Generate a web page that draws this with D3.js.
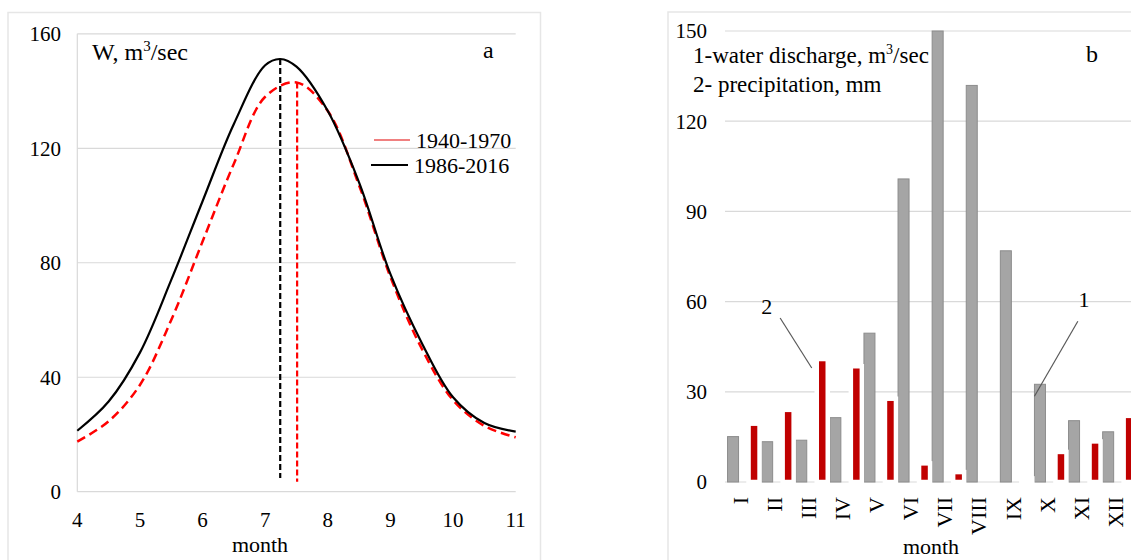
<!DOCTYPE html>
<html>
<head>
<meta charset="utf-8">
<script src="https://cdn.jsdelivr.net/npm/d3@7/dist/d3.min.js"></script>
<style>
  html, body { margin: 0; padding: 0; background: #fff; }
  svg { display: block; }
  text { font-family: "Liberation Serif", "Times New Roman", serif; fill: #000; }
</style>
</head>
<body>
<svg id="chart" width="1131" height="560"></svg>
<script>
// ---------- DATA ----------
// Panel a: mean hydrograph (month vs W, m3/sec)
const monthsA = [4, 4.5, 5, 5.5, 6, 6.5, 7, 7.24, 7.5, 8, 8.5, 9, 9.5, 10, 10.5, 11];
const series1986 = [21.3, 31.5, 48.6, 74, 101.5, 128.5, 149, 151.2, 148.5, 133, 108, 76, 52, 33, 24, 21];
const monthsA2 = [4, 4.5, 5, 5.5, 6, 6.5, 7, 7.5, 8, 8.5, 9, 9.5, 10, 10.5, 11];
const series1940 = [17.5, 24.6, 37.3, 60, 87.4, 114.6, 138, 143, 133, 107, 75, 50, 32, 23, 19];
const peakMonths = [7.24, 7.51];      // 1986-2016, 1940-1970 peak positions
const peakTops = [151.2, 143];
const peakBottoms = [4.8, 3.5];
const xTicksA = [4, 5, 6, 7, 8, 9, 10, 11];
const yTicksA = [0, 40, 80, 120, 160];
const legendA = ["1940-1970", "1986-2016"];

// Panel b: monthly water discharge and precipitation
const romanMonths = ["I", "II", "III", "IV", "V", "VI", "VII", "VIII", "IX", "X", "XI", "XII"];
const discharge = [15.1, 13.4, 13.9, 21.4, 49.5, 100.8, 150, 131.9, 76.9, 32.5, 20.4, 16.7];
const precipitation = [19.4, 24, 40.9, 38.5, 27.7, 6.2, 3.3, 0, 1.2, 10, 13.5, 22];
const yTicksB = [0, 30, 60, 90, 120, 150];

// ---------- DRAW ----------
const svg = d3.select("#chart");
svg.append("rect").attr("width", 1131).attr("height", 560).attr("fill", "#fff");

const frameColor = "#e6e6e6";
const gridColor = "#d9d9d9";

// Panel frames
svg.append("rect").attr("x", 8).attr("y", 12.5).attr("width", 532.5).attr("height", 560)
  .attr("fill", "none").attr("stroke", frameColor).attr("stroke-width", 1.5);
svg.append("rect").attr("x", 668).attr("y", 12).attr("width", 480).attr("height", 560)
  .attr("fill", "none").attr("stroke", frameColor).attr("stroke-width", 1.5);

// ===== Panel a =====
const xA = d3.scaleLinear().domain([4, 11]).range([77.3, 515.7]);
const yA = d3.scaleLinear().domain([0, 160]).range([491.7, 33.8]);
const gA = svg.append("g");

// grid
gA.selectAll("line.grid").data(yTicksA).join("line")
  .attr("x1", xA(4)).attr("x2", xA(11))
  .attr("y1", d => yA(d)).attr("y2", d => yA(d))
  .attr("stroke", gridColor).attr("stroke-width", 1.2);
// y axis line
gA.append("line").attr("x1", xA(4)).attr("x2", xA(4)).attr("y1", yA(0)).attr("y2", yA(160))
  .attr("stroke", gridColor).attr("stroke-width", 1.2);

// y tick labels
gA.selectAll("text.yt").data(yTicksA).join("text")
  .attr("x", 61).attr("y", d => yA(d)).attr("dy", "0.35em")
  .attr("text-anchor", "end").attr("font-size", 21).text(d => d);
// x tick labels
gA.selectAll("text.xt").data(xTicksA).join("text")
  .attr("x", d => xA(d)).attr("y", 527)
  .attr("text-anchor", "middle").attr("font-size", 21).text(d => d);

gA.append("text").attr("x", 260).attr("y", 552).attr("text-anchor", "middle")
  .attr("font-size", 22).text("month");

// curves
const lineA = d3.line().x(d => xA(d[0])).y(d => yA(d[1])).curve(d3.curveCatmullRom.alpha(0.5));
gA.append("path").datum(monthsA2.map((m, i) => [m, series1940[i]]))
  .attr("d", lineA).attr("fill", "none").attr("stroke", "#ff0000")
  .attr("stroke-width", 2.5).attr("stroke-dasharray", "9,5");
gA.append("path").datum(monthsA.map((m, i) => [m, series1986[i]]))
  .attr("d", lineA).attr("fill", "none").attr("stroke", "#000")
  .attr("stroke-width", 2.2);

// peak verticals
const peakColors = ["#000", "#ff0000"];
gA.selectAll("line.peak").data(peakMonths).join("line")
  .attr("x1", d => xA(d)).attr("x2", d => xA(d))
  .attr("y1", (d, i) => yA(peakTops[i])).attr("y2", (d, i) => yA(peakBottoms[i]))
  .attr("stroke", (d, i) => peakColors[i]).attr("stroke-width", 2.2)
  .attr("stroke-dasharray", "6,3");

// title inside
const tA = gA.append("text").attr("x", 92).attr("y", 60).attr("font-size", 24);
tA.append("tspan").text("W,  m");
tA.append("tspan").attr("font-size", 15).attr("dy", -9).text("3");
tA.append("tspan").attr("dy", 9).text("/sec");
gA.append("text").attr("x", 483).attr("y", 58).attr("font-size", 24).text("a");

// legend
const legColors = ["#f08080", "#000"];
const legY = [140, 165];
const legX1 = [374, 371], legX2 = [410, 408];
gA.selectAll("line.leg").data(legendA).join("line")
  .attr("x1", (d, i) => legX1[i]).attr("x2", (d, i) => legX2[i])
  .attr("y1", (d, i) => legY[i]).attr("y2", (d, i) => legY[i])
  .attr("stroke", (d, i) => legColors[i]).attr("stroke-width", 2);
gA.selectAll("text.leg").data(legendA).join("text")
  .attr("x", (d, i) => [416, 414][i]).attr("y", (d, i) => legY[i] + 8)
  .attr("font-size", 22).text(d => d);

// ===== Panel b =====
const xB = d3.scaleBand().domain(romanMonths).range([726.5, 1135.7]);
const inner = d3.scaleBand().domain(["q", "p"]).range([0, xB.bandwidth()])
  .paddingInner(0.476).paddingOuter(0.05);
const yB = d3.scaleLinear().domain([0, 150]).range([482, 31]);
const gB = svg.append("g");

gB.selectAll("line.grid").data(yTicksB).join("line")
  .attr("x1", 725).attr("x2", 1131)
  .attr("y1", d => yB(d)).attr("y2", d => yB(d))
  .attr("stroke", gridColor).attr("stroke-width", 1.2);

gB.selectAll("text.yt").data(yTicksB).join("text")
  .attr("x", 707).attr("y", d => yB(d)).attr("dy", "0.35em")
  .attr("text-anchor", "end").attr("font-size", 21).text(d => d);

// discharge bars
gB.selectAll("rect.q").data(discharge).join("rect")
  .attr("x", (d, i) => xB(romanMonths[i]) + inner("q"))
  .attr("width", inner.bandwidth())
  .attr("y", d => yB(d)).attr("height", d => yB(0) - yB(d))
  .attr("fill", "#a5a5a5").attr("stroke", "#8c8c8c").attr("stroke-width", 1);
// precipitation bars (white outline)
gB.selectAll("rect.p").data(precipitation).join("rect")
  .attr("x", (d, i) => xB(romanMonths[i]) + inner("p"))
  .attr("width", inner.bandwidth())
  .attr("y", d => yB(d)).attr("height", d => yB(0) - yB(d))
  .attr("fill", "#c00000").attr("stroke", "#fff").attr("stroke-width", 4.5);

// month labels rotated
gB.selectAll("text.xt").data(romanMonths).join("text")
  .attr("transform", d => `translate(${xB(d) + xB.bandwidth() / 2 - 3.5},497) rotate(-90)`)
  .attr("dy", "0.35em").attr("text-anchor", "end").attr("font-size", 22).text(d => d);

gB.append("text").attr("x", 931).attr("y", 554).attr("text-anchor", "middle")
  .attr("font-size", 22).text("month");

// legend text
const tB1 = gB.append("text").attr("x", 693).attr("y", 63).attr("font-size", 23);
tB1.append("tspan").text("1-water  discharge,  m");
tB1.append("tspan").attr("font-size", 14).attr("dy", -9).text("3");
tB1.append("tspan").attr("dy", 9).text("/sec");
gB.append("text").attr("x", 693).attr("y", 92).attr("font-size", 23)
  .text("2- precipitation,  mm");
gB.append("text").attr("x", 1086).attr("y", 62).attr("font-size", 24).text("b");

// annotation callouts
const iP = romanMonths.indexOf("III");
const pX = xB("III") + inner("p") - 5, pY = yB(precipitation[iP]) + 9;
gB.append("line").attr("x1", pX - 31.6).attr("y1", pY - 50).attr("x2", pX).attr("y2", pY)
  .attr("stroke", "#595959").attr("stroke-width", 1.2);
gB.append("text").attr("x", pX - 45).attr("y", pY - 54).attr("text-anchor", "middle")
  .attr("font-size", 22).text("2");

const iQ = romanMonths.indexOf("X");
const qX = xB("X") + inner("q"), qY = yB(discharge[iQ]) + 12;
gB.append("line").attr("x1", qX + 43.4).attr("y1", qY - 75).attr("x2", qX).attr("y2", qY)
  .attr("stroke", "#595959").attr("stroke-width", 1.2);
gB.append("text").attr("x", qX + 49.5).attr("y", qY - 89).attr("text-anchor", "middle")
  .attr("font-size", 22).text("1");
</script>
</body>
</html>
